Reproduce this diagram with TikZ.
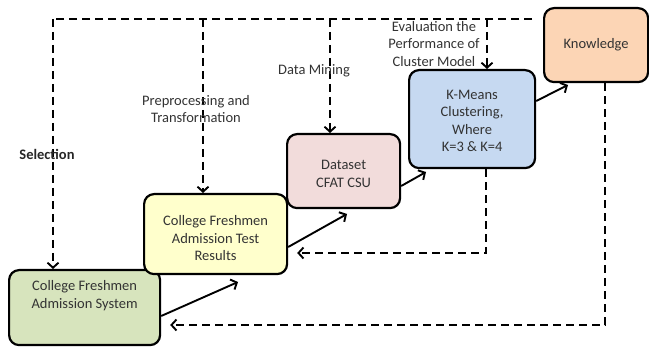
\documentclass[tikz,border=0pt]{standalone}
\usepackage{fontspec}
\setmainfont{Carlito}
\usetikzlibrary{arrows.meta}
\definecolor{cgreen}{HTML}{D7E4BD}
\definecolor{cyellow}{HTML}{FFFFCC}
\definecolor{cpink}{HTML}{F2DCDB}
\definecolor{cblue}{HTML}{C6D9F1}
\definecolor{corange}{HTML}{FCD5B5}
\begin{document}
\begin{tikzpicture}[x=1pt,y=-1pt,
  box/.style={draw=black,line width=2.2pt,rounded corners=10pt,inner sep=0pt},
  lbl/.style={font=\fontsize{14.5}{17.5}\selectfont,align=center,text=black!80},
  solidarrow/.style={line width=1.9pt,-{Straight Barb[length=5pt,width=11pt,line width=1.9pt]}},
  dasharrow/.style={line width=2.6pt,dash pattern=on 8pt off 5pt,-{Straight Barb[length=5pt,width=11pt,line width=1.9pt]}},
  dashline/.style={line width=2.6pt,dash pattern=on 8pt off 5pt}]
\useasboundingbox (0,0) rectangle (649,347);
% boxes
\node[box,fill=cgreen,minimum width=151pt,minimum height=75pt,anchor=north west] (sys) at (8,269) {};
\node[lbl,anchor=north] at ([yshift=-8pt]sys.north) {College Freshmen\\Admission System};
\node[box,fill=cyellow,minimum width=143pt,minimum height=80pt,anchor=north west] (test) at (143,193) {};
\node[lbl] at ([yshift=-4pt]test.center) {College Freshmen\\Admission Test\\Results};
\node[box,fill=cpink,minimum width=113pt,minimum height=74pt,anchor=north west] (data) at (286,133) {};
\node[lbl] at ([yshift=-3pt]data.center) {Dataset\\CFAT CSU};
\node[box,fill=cblue,minimum width=126pt,minimum height=98pt,anchor=north west] (km) at (408,69) {};
\node[lbl] at ([yshift=-2pt]km.center) {K-Means\\Clustering,\\Where\\K=3 \& K=4};
\node[box,fill=corange,minimum width=104pt,minimum height=74pt,anchor=north west] (kn) at (543,7) {};
\node[lbl] at (kn.center) {Knowledge};
% solid arrows
\coordinate (a1) at (238,282);
\coordinate (a2) at (347,214);
\coordinate (a3) at (426,172);
\coordinate (a4) at (568,85);
\draw[solidarrow] (sys.east |- 0,316) -- (a1);
\draw[solidarrow] (test.east |- 0,247) -- (a2);
\draw[solidarrow] (data.east |- 0,186) -- (a3);
\draw[solidarrow] (km.east |- 0,101) -- (a4);
% top dashed feedback
\coordinate (tr) at (532,19);
\coordinate (tl) at (53,19);
\draw[dashline] (tr) -- (tl);
\draw[dasharrow] (tl) -- (sys.north -| tl);
\draw[dasharrow] (203,19) -- (test.north -| 203,0);
\draw[dasharrow] (330,19) -- (data.north -| 330,0);
\draw[dasharrow] (487,19) -- (km.north -| 487,0);
% right dashed
\coordinate (r1) at (605,325);
\coordinate (r2) at ([xshift=9pt]sys.east |- r1);
\draw[dasharrow] (kn.south -| r1) -- (r1) -- (r2);
\coordinate (b1) at (486,253);
\coordinate (b2) at ([xshift=9pt]test.east |- b1);
\draw[dasharrow] (km.south -| b1) -- (b1) -- (b2);
% labels
\node[font=\fontsize{14.5}{17.5}\selectfont\bfseries,text=black!85] (sel) at (47,154) {Selection};
\node[lbl] (pre) at (196,109) {Preprocessing and\\Transformation};
\node[lbl] (dm) at (314,71) {Data Mining};
\node[lbl] (ev) at (434,44) {Evaluation the\\Performance of\\Cluster Model};
\end{tikzpicture}
\end{document}
